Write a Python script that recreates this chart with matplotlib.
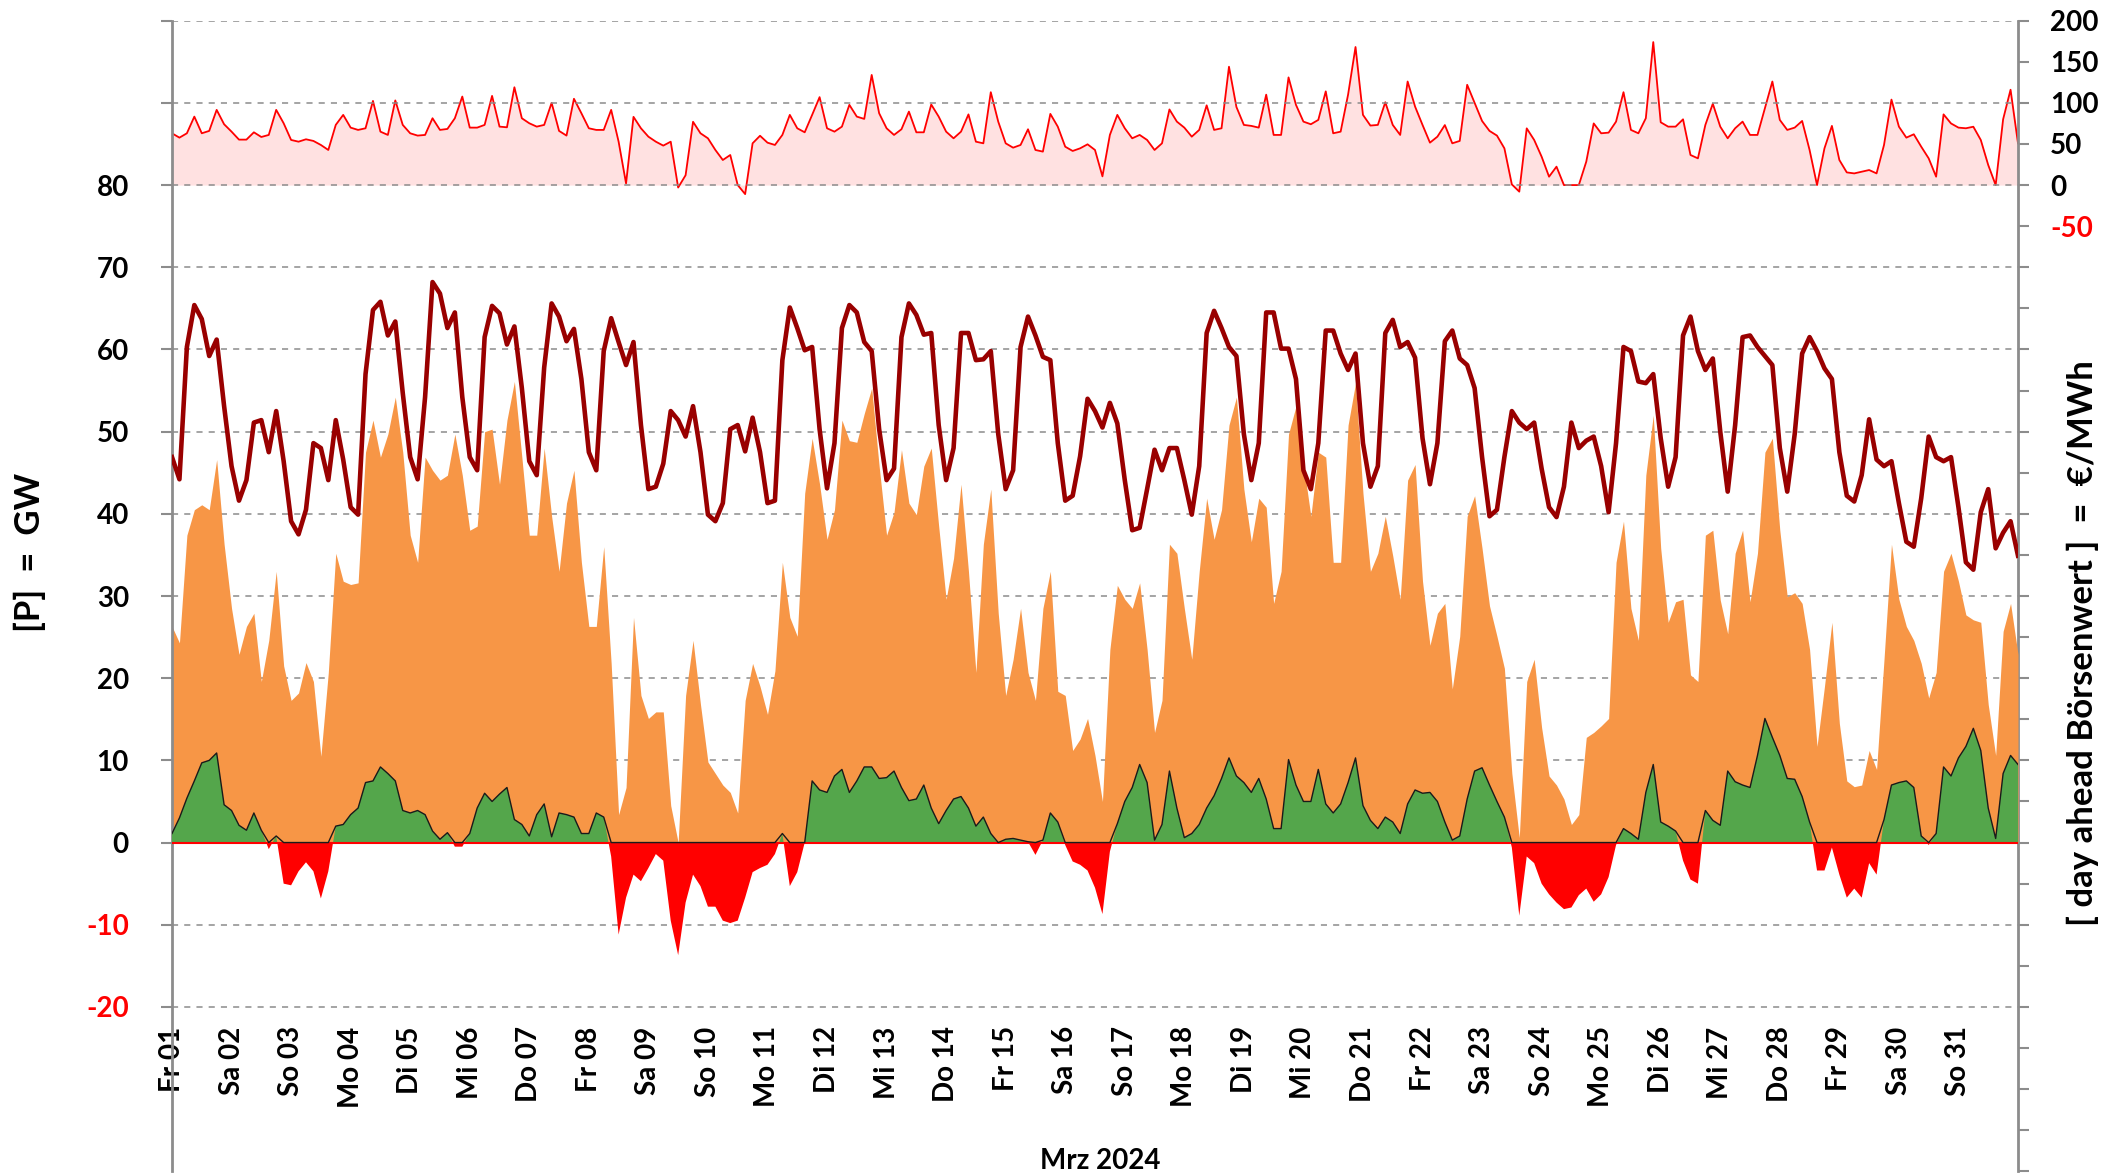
import numpy as np
import matplotlib
matplotlib.use("Agg")
import matplotlib.pyplot as plt

plt.rcParams['font.family'] = ['Lato', 'DejaVu Sans']
plt.rcParams['font.weight'] = 'bold'

# 3-hourly values, 01.03.2024 00:00 ... 01.04.2024 00:00 (8 per day + end point)
load_gw = [
    46.9, 44.2, 60.3, 65.4, 63.7, 59.2, 61.2, 53.1,
    45.8, 41.6, 44.1, 51.1, 51.4, 47.5, 52.5, 46.4,
    39.1, 37.5, 40.5, 48.6, 48.0, 44.1, 51.4, 46.6,
    40.8, 39.9, 57.0, 64.8, 65.8, 61.7, 63.4, 54.7,
    46.9, 44.2, 54.2, 68.2, 66.8, 62.6, 64.5, 54.2,
    46.9, 45.3, 61.5, 65.3, 64.4, 60.6, 62.8, 55.3,
    46.4, 44.7, 57.8, 65.6, 64.0, 61.0, 62.5, 56.4,
    47.5, 45.3, 59.8, 63.8, 60.9, 58.1, 60.9, 50.8,
    43.0, 43.3, 46.1, 52.5, 51.4, 49.4, 53.1, 47.5,
    39.9, 39.1, 41.3, 50.3, 50.8, 47.6, 51.7, 47.5,
    41.3, 41.6, 58.7, 65.1, 62.6, 59.9, 60.3, 50.3,
    43.1, 48.6, 62.6, 65.4, 64.5, 60.9, 59.8, 50.3,
    44.1, 45.5, 61.5, 65.6, 64.2, 61.8, 62.0, 50.8,
    44.1, 48.0, 62.0, 62.0, 58.7, 58.8, 59.8, 49.7,
    43.0, 45.3, 60.3, 64.0, 61.7, 59.1, 58.7, 48.6,
    41.6, 42.2, 47.0, 54.0, 52.5, 50.5, 53.5, 51.0,
    44.1, 38.0, 38.3, 43.0, 47.8, 45.3, 48.0, 48.0,
    44.1, 39.9, 45.8, 62.0, 64.7, 62.6, 60.3, 59.2,
    49.7, 44.1, 48.6, 64.5, 64.5, 60.1, 60.1, 56.4,
    45.3, 43.0, 48.6, 62.3, 62.3, 59.5, 57.5, 59.5,
    48.6, 43.3, 45.8, 62.0, 63.6, 60.3, 60.9, 59.0,
    49.2, 43.6, 48.6, 61.0, 62.3, 58.9, 58.1, 55.3,
    46.9, 39.7, 40.5, 46.9, 52.5, 51.1, 50.3, 51.1,
    45.5, 40.8, 39.6, 43.3, 51.1, 48.0, 48.9, 49.4,
    45.8, 40.2, 48.6, 60.3, 59.8, 56.1, 55.9, 57.0,
    49.2, 43.3, 46.9, 61.7, 64.0, 59.8, 57.5, 58.9,
    50.0, 42.7, 50.8, 61.5, 61.7, 60.3, 59.2, 58.1,
    48.0, 42.7, 49.7, 59.5, 61.5, 59.8, 57.7, 56.4,
    47.5, 42.2, 41.5, 44.7, 51.5, 46.6, 45.8, 46.4,
    41.3, 36.6, 36.0, 41.9, 49.4, 46.9, 46.4, 46.9,
    40.8, 34.1, 33.2, 40.2, 43.0, 35.8, 37.7, 39.1,
    34.9,
]

wind_solar_gw = [
    26.3, 24.3, 37.4, 40.5, 41.1, 40.5, 46.6, 36.3,
    28.5, 22.9, 26.3, 27.9, 19.6, 24.6, 33.0, 21.5,
    17.3, 18.2, 21.9, 19.6, 10.5, 20.7, 35.2, 31.8,
    31.4, 31.6, 47.5, 51.4, 46.9, 49.7, 54.2, 47.5,
    37.4, 34.1, 46.9, 45.3, 44.1, 44.7, 49.7, 44.7,
    38.0, 38.5, 50.0, 50.3, 43.6, 51.4, 56.1, 46.9,
    37.4, 37.4, 48.0, 39.7, 33.0, 41.3, 45.3, 34.1,
    26.3, 26.3, 36.0, 21.8, 3.4, 6.7, 27.4, 17.9,
    15.1, 15.9, 15.9, 4.5, 0.0, 17.9, 24.6, 16.8,
    9.8, 8.4, 7.0, 6.1, 3.6, 17.3, 21.8, 19.0,
    15.6, 20.9, 34.1, 27.4, 25.1, 42.5, 49.2, 43.6,
    36.9, 40.5, 51.4, 48.9, 48.7, 52.2, 55.3, 45.8,
    37.4, 40.2, 47.8, 41.3, 39.9, 45.8, 48.0, 38.5,
    29.6, 34.6, 43.6, 33.0, 20.7, 36.3, 43.0, 27.9,
    17.9, 22.3, 28.5, 20.7, 17.3, 28.5, 33.0, 18.4,
    17.9, 11.2, 12.6, 15.1, 10.6, 5.0, 23.5, 31.3,
    29.6, 28.5, 31.6, 23.5, 13.4, 17.3, 36.3, 35.2,
    28.5, 22.3, 33.0, 41.9, 36.9, 40.5, 50.8, 54.2,
    43.0, 36.6, 41.9, 40.8, 29.1, 33.0, 49.7, 53.1,
    46.1, 39.7, 47.5, 46.9, 34.1, 34.1, 50.8, 55.9,
    42.5, 33.0, 35.2, 39.7, 34.9, 29.6, 44.1, 46.0,
    31.8, 24.0, 27.9, 29.1, 18.7, 25.1, 39.7, 42.2,
    35.8, 28.8, 25.1, 21.2, 8.4, 0.6, 19.6, 22.3,
    14.0, 8.1, 7.0, 5.3, 2.2, 3.4, 12.8, 13.4,
    14.2, 15.1, 34.1, 39.1, 28.5, 24.6, 44.7, 52.0,
    35.8, 26.8, 29.3, 29.6, 20.4, 19.6, 37.4, 38.0,
    29.5, 25.4, 35.2, 38.0, 29.3, 35.2, 47.5, 49.2,
    38.0, 29.9, 30.4, 29.1, 23.5, 11.7, 19.0, 26.8,
    14.5, 7.5, 6.8, 7.0, 11.2, 8.9, 22.3, 36.3,
    29.6, 26.3, 24.6, 21.8, 17.6, 20.7, 33.0, 35.2,
    31.8, 27.7, 27.1, 26.8, 16.8, 10.6, 25.7, 29.1,
    22.9,
]

# positive = green area, negative = red area
saldo_gw = [
    1.1, 3.0, 5.4, 7.5, 9.7, 10.0, 10.9, 4.6,
    3.9, 2.1, 1.5, 3.6, 1.5, -0.8, 0.8, -5.0,
    -5.2, -3.5, -2.4, -3.5, -6.8, -3.5, 2.0, 2.2,
    3.4, 4.2, 7.3, 7.5, 9.2, 8.4, 7.5, 3.9,
    3.6, 3.9, 3.4, 1.4, 0.4, 1.2, -0.5, -0.5,
    1.1, 4.2, 6.0, 5.0, 5.9, 6.7, 2.8, 2.2,
    0.8, 3.4, 4.7, 0.7, 3.6, 3.4, 3.1, 1.1,
    1.1, 3.6, 3.1, -1.7, -11.2, -6.7, -3.9, -4.7,
    -3.1, -1.4, -2.2, -9.5, -13.7, -7.3, -3.9, -5.3,
    -7.8, -7.8, -9.5, -9.8, -9.5, -6.7, -3.6, -3.1,
    -2.7, -1.4, 1.1, -5.3, -3.6, 0.0, 7.5, 6.4,
    6.1, 8.1, 8.9, 6.1, 7.5, 9.2, 9.2, 7.8,
    7.9, 8.7, 6.7, 5.1, 5.3, 7.0, 4.2, 2.3,
    3.9, 5.3, 5.6, 4.2, 2.0, 3.1, 1.1, -0.1,
    0.4, 0.5, 0.3, 0.1, -1.5, 0.3, 3.6, 2.5,
    -0.3, -2.3, -2.7, -3.4, -5.5, -8.7, -1.1, 2.3,
    5.0, 6.7, 9.5, 7.3, 0.3, 2.2, 8.7, 4.2,
    0.6, 1.1, 2.2, 4.2, 5.7, 7.8, 10.3, 8.1,
    7.3, 6.1, 7.8, 5.3, 1.7, 1.7, 10.1, 7.0,
    5.0, 5.0, 8.9, 4.7, 3.6, 4.7, 7.3, 10.3,
    4.5, 2.7, 1.7, 3.1, 2.5, 1.1, 4.7, 6.4,
    6.0, 6.1, 5.0, 2.5, 0.3, 0.8, 5.3, 8.7,
    9.1, 7.0, 5.0, 3.1, -0.6, -8.9, -1.7, -2.5,
    -5.0, -6.3, -7.3, -8.1, -7.9, -6.4, -5.6, -7.2,
    -6.3, -4.2, -0.3, 1.7, 1.1, 0.4, 6.1, 9.5,
    2.5, 2.0, 1.4, -2.2, -4.5, -5.0, 3.9, 2.7,
    2.1, 8.7, 7.4, 7.0, 6.7, 10.6, 15.1, 12.8,
    10.6, 7.8, 7.7, 5.6, 2.5, -3.4, -3.4, -0.6,
    -3.9, -6.7, -5.6, -6.7, -2.5, -3.9, 2.8, 7.0,
    7.3, 7.5, 6.7, 0.8, -0.3, 1.1, 9.2, 8.1,
    10.3, 11.7, 13.9, 11.2, 4.2, 0.5, 8.4, 10.6,
    9.5,
]

price_eur = [
    63.0, 57.7, 63.0, 83.3, 63.0, 65.9, 91.5, 74.0,
    65.0, 55.3, 55.3, 64.2, 58.5, 61.0, 91.5, 75.2,
    54.9, 52.8, 55.7, 53.7, 48.8, 42.7, 73.2, 85.4,
    69.9, 67.1, 69.1, 102.4, 65.0, 61.0, 103.0, 73.2,
    63.0, 60.2, 61.0, 81.3, 67.1, 68.3, 81.3, 107.7,
    69.9, 69.9, 73.2, 108.5, 71.1, 70.3, 119.0, 81.3,
    75.2, 71.1, 73.2, 100.0, 65.9, 60.2, 105.0, 87.4,
    69.1, 67.1, 67.1, 91.5, 52.8, 2.0, 83.0, 69.1,
    58.9, 52.8, 48.0, 52.8, -3.0, 12.0, 77.0, 63.0,
    56.9, 42.7, 30.5, 36.6, 0.0, -11.0, 50.8, 60.0,
    51.6, 48.8, 61.0, 85.4, 69.1, 64.2, 85.4, 107.0,
    69.1, 65.0, 71.1, 97.6, 83.3, 80.5, 134.0, 87.4,
    69.1, 61.0, 67.9, 89.4, 64.2, 64.2, 98.0, 83.3,
    65.0, 56.9, 65.0, 86.0, 52.8, 50.8, 113.0, 77.2,
    50.8, 45.5, 48.8, 67.9, 42.7, 40.7, 86.6, 71.1,
    46.7, 41.5, 44.7, 49.6, 42.7, 10.6, 61.0, 85.4,
    69.1, 56.9, 61.0, 54.9, 42.7, 50.8, 92.0, 77.2,
    69.9, 58.9, 67.1, 97.0, 67.1, 69.1, 144.0, 95.0,
    73.2, 72.0, 69.9, 110.0, 61.0, 61.0, 131.0, 97.6,
    77.2, 74.0, 79.3, 114.0, 63.0, 65.0, 110.0, 168.0,
    85.4, 72.4, 73.2, 100.8, 73.2, 61.0, 126.0, 95.5,
    73.2, 51.6, 58.9, 73.0, 50.8, 53.7, 122.0, 100.0,
    78.0, 65.9, 60.2, 44.7, 0.8, -8.0, 69.0, 54.9,
    34.6, 10.2, 22.4, 0.0, 0.0, 0.0, 28.5, 75.0,
    63.0, 63.8, 77.2, 113.0, 67.1, 63.0, 81.3, 174.0,
    76.4, 71.1, 71.1, 80.0, 36.6, 32.5, 73.2, 99.0,
    71.1, 56.9, 69.1, 77.2, 61.0, 61.0, 93.5, 126.0,
    79.3, 67.1, 69.9, 78.0, 42.7, 0.0, 44.7, 72.0,
    30.5, 15.4, 14.2, 16.3, 18.3, 14.2, 48.8, 104.0,
    71.1, 57.7, 61.8, 46.7, 32.5, 10.2, 86.0, 75.0,
    69.9, 69.1, 71.0, 54.9, 24.4, 0.0, 80.0, 116.0,
    50.8,
]

day_labels = ["Fr 01", "Sa 02", "So 03", "Mo 04", "Di 05", "Mi 06", "Do 07", "Fr 08",
              "Sa 09", "So 10", "Mo 11", "Di 12", "Mi 13", "Do 14", "Fr 15", "Sa 16",
              "So 17", "Mo 18", "Di 19", "Mi 20", "Do 21", "Fr 22", "Sa 23", "So 24",
              "Mo 25", "Di 26", "Mi 27", "Do 28", "Fr 29", "Sa 30", "So 31"]
month_label = "Mrz 2024"
gw_ticks = list(range(-20, 101, 10))
price_ticks = list(range(-1200, 201, 50))

load = np.array(load_gw)
ws = np.array(wind_solar_gw)
saldo = np.array(saldo_gw)
price = np.array(price_eur)
t = np.arange(len(load)) * 3 / 24.0  # days since 01.03. 00:00

W, H = 2119, 1176
fig = plt.figure(figsize=(W / 100, H / 100), dpi=100)
fig.patch.set_facecolor("white")
ax = fig.add_axes([172 / W, 4.7 / H, 1846 / W, (1171.3 - 20.7) / H])
# spine position first: moving it later resets the tick labels
ax.spines["bottom"].set_position(("data", -20))
ax.spines["bottom"].set_visible(False)
ax2 = ax.twinx()
ax.set_zorder(2)
ax.patch.set_visible(False)
ax2.set_zorder(1)

grey = "#8c8c8c"

# price (right axis)
ax2.fill_between(t, 0, price, color="#ffe1e1", lw=0)
ax2.plot(t, price, color="#ff0000", lw=1.3)
ax2.set_ylim(-1200, 200)
ax2.set_yticks(price_ticks)
ax2.set_yticklabels([str(v) if v >= -50 else "" for v in price_ticks])
for lbl, v in zip(ax2.get_yticklabels(), price_ticks):
    lbl.set_color("#ff0000" if v < 0 else "black")
ax2.tick_params(axis="y", direction="out", length=8, width=1.5, color=grey,
                labelsize=20, pad=15)
for s in ["left", "top", "bottom"]:
    ax2.spines[s].set_visible(False)
ax2.spines["right"].set_color(grey)
ax2.spines["right"].set_linewidth(2)

# power (left axis)
ax.fill_between(t, 0, ws, color="#f79646", lw=0, zorder=2)
ax.fill_between(t, 0, saldo, where=saldo >= 0, interpolate=True,
                color="#54a64b", lw=0, zorder=3)
ax.fill_between(t, 0, saldo, where=saldo <= 0, interpolate=True,
                color="#ff0000", lw=0, zorder=3)
ax.axhline(0, color="#ff0000", lw=1.5, zorder=4)
ax.plot(t, np.maximum(saldo, 0), color="#1a1a1a", lw=1, zorder=5)
ax.plot(t, load, color="#990000", lw=3.3, zorder=6, solid_joinstyle="round")

ax.set_xlim(0, 31)
ax.set_ylim(-40, 100)
ax.set_yticks(gw_ticks)
ax.set_yticklabels([str(v) if v <= 80 else "" for v in gw_ticks])
for lbl, v in zip(ax.get_yticklabels(), gw_ticks):
    lbl.set_color("#ff0000" if v < 0 else "black")
ax.tick_params(axis="y", direction="out", length=8, width=1.5, color=grey,
               labelsize=20, pad=23)
ax.grid(axis="y", color=grey, lw=1.1, ls=(0, (4, 4)), zorder=1)
ax.set_axisbelow(True)

ax.set_xticks(np.arange(len(day_labels)))
ax.set_xticklabels(day_labels)
ax.tick_params(axis="x", length=0, pad=14, labelsize=20, labelrotation=90)
ax.spines["top"].set_visible(False)
ax.spines["right"].set_visible(False)
ax.spines["left"].set_color(grey)
ax.spines["left"].set_linewidth(2)

fig.text(30 / W, 1 - 552 / H, "[P]  =  GW", rotation=90, ha="center", va="center",
         fontsize=25, fontweight="bold")
fig.text(2083 / W, 1 - 643 / H, "[ day ahead Börsenwert ]  =  €/MWh", rotation=90,
         ha="center", va="center", fontsize=25, fontweight="bold")
fig.text(1100 / W, 1 - 1161 / H, month_label, ha="center", va="center",
         fontsize=20, fontweight="bold")

fig.savefig("out.png", dpi=100, facecolor="white")
